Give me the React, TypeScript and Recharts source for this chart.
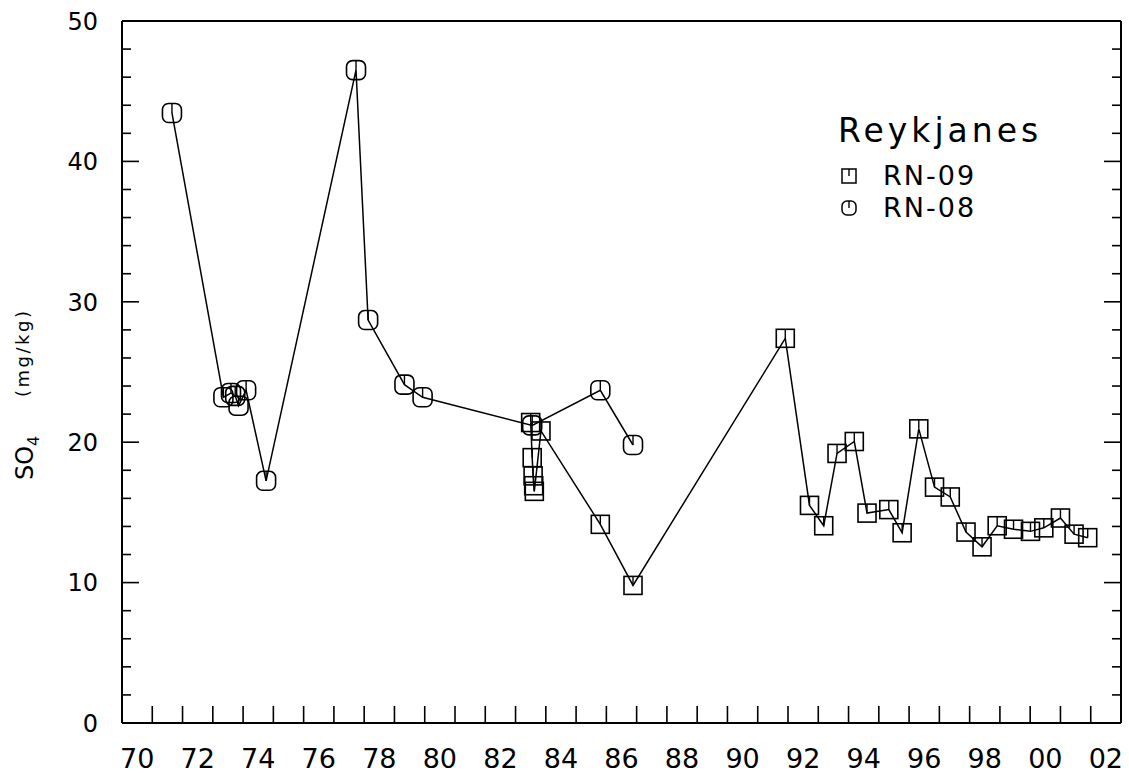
import React from "react";
import { LineChart, Line, XAxis, YAxis } from "recharts";

// decimal years (70 = 1970, 100 = 2000) and SO4 in mg/kg
const rn08Years = [71.65, 73.35, 73.6, 73.74, 73.85, 74.1, 74.76, 77.73, 78.13, 79.33, 79.93, 83.55, 85.8, 86.88];
const rn08Values = [43.45, 23.2, 23.5, 23.3, 22.6, 23.7, 17.25, 46.5, 28.7, 24.1, 23.2, 21.2, 23.7, 19.8];

const rn09Years = [
    83.5, 83.55, 83.58, 83.6, 83.62, 83.84, 85.8, 86.88, 91.91, 92.71, 93.18, 93.62, 94.19, 94.61,
    95.33, 95.77, 96.32, 96.84, 97.36, 97.88, 98.41, 98.91, 99.45, 100.01, 100.45, 101.0, 101.45, 101.9,
];
const rn09Values = [
    21.4, 18.9, 17.6, 16.9, 16.5, 20.8, 14.15, 9.8, 27.4, 15.5, 14.05, 19.2, 20.05, 14.95,
    15.2, 13.55, 20.95, 16.8, 16.1, 13.6, 12.55, 14.05, 13.8, 13.65, 13.9, 14.6, 13.45, 13.2,
];

const yearLabels = [70, 72, 74, 76, 78, 80, 82, 84, 86, 88, 90, 92, 94, 96, 98, 100, 102];
const yearTicks = [71, 72, 73, 74, 75, 76, 77, 78, 79, 80, 81, 82, 83, 84, 85, 86, 87, 88, 89, 90, 91, 92, 93, 94, 95, 96, 97, 98, 99, 100, 101, 102];
const valueTicks = [0, 2, 4, 6, 8, 10, 12, 14, 16, 18, 20, 22, 24, 26, 28, 30, 32, 34, 36, 38, 40, 42, 44, 46, 48, 50];

const rn08Data = rn08Years.map((t, i) => ({ t, v: rn08Values[i] }));
const rn09Data = rn09Years.map((t, i) => ({ t, v: rn09Values[i] }));

// labels sit in the middle of the year, tick marks at the start of the year
const bottomTicks = [...yearTicks, ...yearLabels.map((y) => y + 0.5)].sort((a, b) => a - b);

const FONT = "'DejaVu Sans', sans-serif";
const INK = "#000";

const SquareDot = (props: any) => {
    const { cx, cy, index } = props;
    if (cx == null || cy == null) return null;
    return (
        <g key={`sq-${index}`}>
            <rect x={cx - 9} y={cy - 9} width={18} height={18} fill="none" stroke={INK} strokeWidth={1.6} />
            <line x1={cx} y1={cy - 9} x2={cx} y2={cy} stroke={INK} strokeWidth={1.4} />
        </g>
    );
};

const CircleDot = (props: any) => {
    const { cx, cy, index } = props;
    if (cx == null || cy == null) return null;
    return (
        <g key={`ci-${index}`}>
            <rect x={cx - 9.5} y={cy - 9.5} width={19} height={19} rx={6} fill="none" stroke={INK} strokeWidth={1.6} />
            <line x1={cx} y1={cy - 9.5} x2={cx} y2={cy} stroke={INK} strokeWidth={1.4} />
        </g>
    );
};

const BottomTick = (props: any) => {
    const { x, y, payload } = props;
    const v = payload.value;
    if (Number.isInteger(v)) {
        return <line x1={x} y1={y} x2={x} y2={y - 17} stroke={INK} strokeWidth={1.6} />;
    }
    const yr = Math.floor(v) % 100;
    return (
        <text x={x} y={y + 45} textAnchor="middle" fontFamily={FONT} fontSize={27} fill={INK}>
            {String(yr).padStart(2, "0")}
        </text>
    );
};

const TopTick = (props: any) => {
    const { x, y } = props;
    return <line x1={x} y1={y} x2={x} y2={y + 17} stroke={INK} strokeWidth={1.6} />;
};

const LeftTick = (props: any) => {
    const { x, y, payload } = props;
    const major = payload.value % 10 === 0;
    return (
        <g>
            <line x1={x} y1={y} x2={x + (major ? 17 : 9)} y2={y} stroke={INK} strokeWidth={1.6} />
            {major && (
                <text x={x - 24} y={y + 8.7} textAnchor="end" fontFamily={FONT} fontSize={24} fill={INK}>
                    {payload.value}
                </text>
            )}
        </g>
    );
};

const RightTick = (props: any) => {
    const { x, y, payload } = props;
    const major = payload.value % 10 === 0;
    return <line x1={x} y1={y} x2={x - (major ? 17 : 9)} y2={y} stroke={INK} strokeWidth={1.6} />;
};

const legendItems = [
    { name: "RN-09", shape: "square" },
    { name: "RN-08", shape: "circle" },
];

const LegendBox = () => (
    <svg width={260} height={130} style={{ position: "absolute", left: 830, top: 100 }}>
        <text x={8} y={42} fontFamily={FONT} fontSize={33} letterSpacing={4} fill={INK}>
            Reykjanes
        </text>
        {legendItems.map((item, i) => {
            const cy = 76 + i * 32;
            return (
                <g key={item.name}>
                    <rect
                        x={12}
                        y={cy - 7}
                        width={14}
                        height={14}
                        rx={item.shape === "square" ? 0 : 5}
                        fill="none"
                        stroke={INK}
                        strokeWidth={1.5}
                    />
                    <line x1={19} y1={cy - 7} x2={19} y2={cy} stroke={INK} strokeWidth={1.4} />
                    <text x={53} y={cy + 9} fontFamily={FONT} fontSize={27} letterSpacing={2} fill={INK}>
                        {item.name}
                    </text>
                </g>
            );
        })}
    </svg>
);

export default function App() {
    return (
        <div style={{ position: "absolute", left: 0, top: 0, width: 1129, height: 774, background: "#fff" }}>
            <LineChart width={1129} height={774} margin={{ top: 20, right: 7, left: 62, bottom: 11 }}>
                <XAxis
                    xAxisId={0}
                    type="number"
                    dataKey="t"
                    domain={[70, 103]}
                    allowDataOverflow
                    ticks={bottomTicks}
                    interval={0}
                    height={40}
                    tickSize={0}
                    tickMargin={0}
                    tickLine={false}
                    axisLine={{ stroke: INK, strokeWidth: 2 }}
                    tick={BottomTick}
                />
                <XAxis
                    xAxisId="top"
                    orientation="top"
                    type="number"
                    domain={[70, 103]}
                    allowDataOverflow
                    ticks={yearTicks}
                    interval={0}
                    height={1}
                    tickSize={0}
                    tickMargin={0}
                    tickLine={false}
                    axisLine={{ stroke: INK, strokeWidth: 2 }}
                    tick={TopTick}
                />
                <YAxis
                    yAxisId={0}
                    type="number"
                    domain={[0, 50]}
                    allowDataOverflow
                    ticks={valueTicks}
                    interval={0}
                    width={60}
                    tickSize={0}
                    tickMargin={0}
                    tickLine={false}
                    axisLine={{ stroke: INK, strokeWidth: 2 }}
                    tick={LeftTick}
                    label={{
                        content: () => (
                            <g fontFamily={FONT} fill={INK}>
                                <text x={33} y={480} transform="rotate(-90, 33, 480)" fontSize={24}>
                                    SO
                                    <tspan fontSize={16} dy={6}>4</tspan>
                                </text>
                                <text x={29} y={397} transform="rotate(-90, 29, 397)" fontSize={18} letterSpacing={2.5}>
                                    (mg/kg)
                                </text>
                            </g>
                        ),
                    }}
                />
                <YAxis
                    yAxisId="right"
                    orientation="right"
                    type="number"
                    domain={[0, 50]}
                    allowDataOverflow
                    ticks={valueTicks}
                    interval={0}
                    width={1}
                    tickSize={0}
                    tickMargin={0}
                    tickLine={false}
                    axisLine={{ stroke: INK, strokeWidth: 2 }}
                    tick={RightTick}
                />
                <Line
                    data={rn09Data}
                    dataKey="v"
                    name="RN-09"
                    type="linear"
                    stroke={INK}
                    strokeWidth={1.5}
                    dot={SquareDot}
                    activeDot={false}
                    isAnimationActive={false}
                />
                <Line
                    data={rn08Data}
                    dataKey="v"
                    name="RN-08"
                    type="linear"
                    stroke={INK}
                    strokeWidth={1.5}
                    dot={CircleDot}
                    activeDot={false}
                    isAnimationActive={false}
                />
            </LineChart>
            <LegendBox />
        </div>
    );
}
